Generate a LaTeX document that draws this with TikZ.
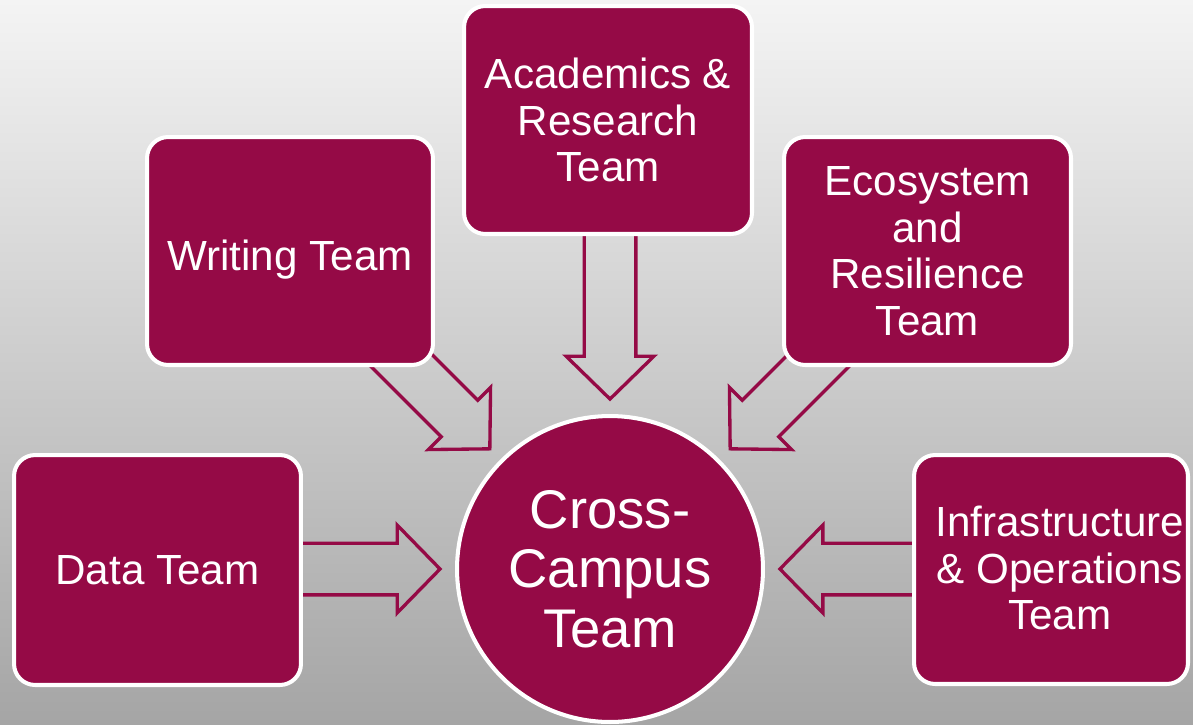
\documentclass[tikz,border=0pt]{standalone}
\usepackage{fontspec}
\setmainfont{Liberation Sans}
\usetikzlibrary{calc}
\definecolor{maroon}{RGB}{149,10,70}
\definecolor{bgtop}{RGB}{244,244,244}
\definecolor{bgbot}{RGB}{165,165,165}
\tikzset{
  teambox/.style={draw=white, line width=2.3pt, fill=maroon, rounded corners=12pt,
    text=white, align=center, font=\fontsize{24}{26.5}\selectfont, inner sep=0pt},
  hub/.style={circle, draw=white, line width=2.3pt, fill=maroon, text=white,
    align=center, font=\fontsize{31}{34}\selectfont, inner sep=0pt, minimum size=6.12cm},
  blockarrow/.style={draw=maroon, line width=1.9pt, line join=miter, fill=none}
}
\newcommand{\blockarr}[2]{%
  \coordinate (ba-h) at ($(#2)!24.4pt!(#1)$);
  \draw[blockarrow] ($(#1)!14.7pt!90:(#2)$) -- ($(ba-h)!14.7pt!-90:(#1)$)
    -- ($(ba-h)!25pt!-90:(#1)$) -- (#2) -- ($(ba-h)!25pt!90:(#1)$)
    -- ($(ba-h)!14.7pt!90:(#1)$) -- ($(#1)!14.7pt!-90:(#2)$) -- cycle;
}
\begin{document}
\begin{tikzpicture}[x=0.02cm, y=-0.02cm]
  \useasboundingbox (0,0) rectangle (1193,724);
  \shade[top color=bgtop, bottom color=bgbot] (0,0) rectangle (1193,724);

  \node[hub] (hub) at (610,569) {Cross-\\Campus\\Team};

  \coordinate (tW) at ($(hub.center)+(135:3.4cm)$);
  \coordinate (sW) at ($(tW)+(135:3cm)$);
  \coordinate (tE) at ($(hub.center)+(45:3.4cm)$);
  \coordinate (sE) at ($(tE)+(45:3cm)$);
  \coordinate (tA) at ($(hub.center)+(90:3.4cm)$);
  \coordinate (sA) at ($(tA)+(90:3.98cm)$);
  \coordinate (tD) at ($(hub.center)+(180:3.4cm)$);
  \coordinate (sD) at ($(tD)+(180:3.2cm)$);
  \coordinate (tI) at ($(hub.center)+(0:3.4cm)$);
  \coordinate (sI) at ($(tI)+(0:3cm)$);

  \blockarr{sW}{tW}
  \blockarr{sE}{tE}
  \blockarr{sA}{tA}
  \blockarr{sD}{tD}
  \blockarr{sI}{tI}

  \node[teambox, minimum width=5.72cm, minimum height=4.56cm] (writing) at (290,251)
    {\raisebox{-5pt}[\height][\depth]{Writing Team}};
  \node[teambox, minimum width=5.76cm, minimum height=4.56cm] (acad) at (608,120) {Academics \&\\Research\\Team};
  \node[teambox, minimum width=5.74cm, minimum height=4.56cm] (eco) at (927.5,251) {Ecosystem\\and\\Resilience\\Team};
  \node[teambox, minimum width=5.74cm, minimum height=4.6cm] (data) at (157.5,570) {Data Team};
  \node[teambox, minimum width=5.48cm, minimum height=4.58cm] (infra) at (1051,569.5)
    {\hspace*{10pt}\raisebox{-2.5pt}[\height][\depth]{\begin{tabular}{@{}c@{}}Infrastructure\\\& Operations\\Team\end{tabular}}};
\end{tikzpicture}
\end{document}
